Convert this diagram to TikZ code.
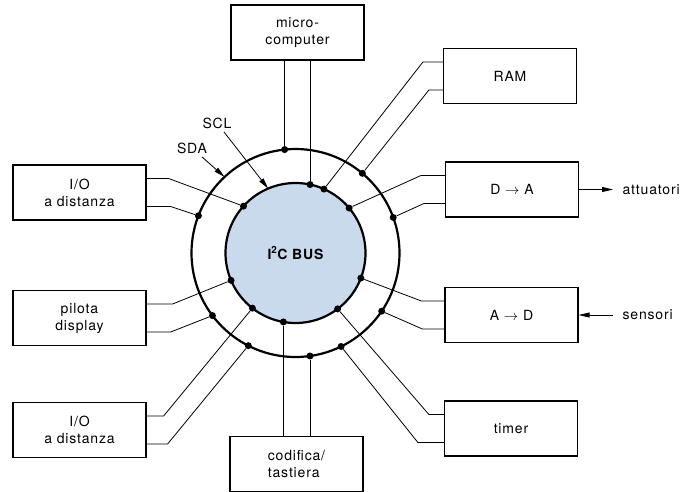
\documentclass[tikz,border=0pt]{standalone}
\usepackage{fontspec}
\setmainfont{TeX Gyre Heros}[LetterSpace=6]
\usetikzlibrary{arrows.meta}
\definecolor{bus_blue}{RGB}{200,218,236}

\begin{document}
\begin{tikzpicture}[x=1pt,y=-1pt,
  font=\fontsize{14}{17}\selectfont,
  box/.style={draw,line width=1.2pt,minimum width=133pt,minimum height=55pt,
              align=center},
  ringline/.style={circle,draw,line width=2.2pt,outer sep=0pt,inner sep=0pt},
  wire/.style={line width=0.8pt},
  dot/.style={circle,fill,inner sep=0pt,minimum size=7pt},
  arrow/.style={-{Triangle[length=11pt,width=5pt]},line width=0.8pt}
]
\useasboundingbox (0,0) rectangle (693,491);
\node[ringline,minimum size=208pt] (ring) at (295.5,253) {};
\node[ringline,minimum size=140pt,fill=bus_blue] (bus) at (295.5,253)
  {\fontsize{14}{16}\selectfont\bfseries I\textsuperscript{2}C BUS};
\node[box] (micro) at (297.5,32.5) {micro-\\computer};
\node[box] (ram)   at (510,76)     {RAM};
\node[box] (da)    at (512,189.5)  {D $\rightarrow$ A};
\node[box] (ad)    at (511.5,315)  {A $\rightarrow$ D};
\node[box] (timer) at (511,428.5)  {timer};
\node[box,align=left] (cod) at (296.5,464) {codifica/\\tastiera};
\node[box] (io1)   at (79.5,192.5) {I/O\\a distanza};
\node[box] (pil)   at (79.5,318)   {pilota\\display};
\node[box] (io2)   at (79.5,430)   {I/O\\a distanza};
\node[anchor=west] (att) at (619,190) {attuatori};
\node[anchor=west] (sen) at (619,315) {sensori};
\node (scl) at (217,123) {SCL};
\node (sda) at (192,148) {SDA};
\node[dot] (micro-o) at (ring.96.9)  {};
\node[dot] (micro-i) at (bus.78.05)  {};
\node[dot] (ram-o)   at (ring.50.3)  {};
\node[dot] (ram-i)   at (bus.66.3)   {};
\node[dot] (da-o)    at (ring.20.8)  {};
\node[dot] (da-i)    at (bus.40.7)   {};
\node[dot] (ad-o)    at (ring.-34.7) {};
\node[dot] (ad-i)    at (bus.-21.8)  {};
\node[dot] (timer-o) at (ring.-64.2) {};
\node[dot] (timer-i) at (bus.-53.8)  {};
\node[dot] (cod-o)   at (ring.-82.5) {};
\node[dot] (cod-i)   at (bus.-100)   {};
\node[dot] (io2-o)   at (ring.-117.3) {};
\node[dot] (io2-i)   at (bus.-128.5) {};
\node[dot] (pil-o)   at (ring.-143.4) {};
\node[dot] (pil-i)   at (bus.-157.2) {};
\node[dot] (io1-o)   at (ring.159.9) {};
\node[dot] (io1-i)   at (bus.138.7)  {};
\draw[wire] (micro.south -| micro-o) -- (micro-o);
\draw[wire] (micro.south -| micro-i) -- (micro-i);
\draw[wire] (cod.north -| cod-i) -- (cod-i);
\draw[wire] (cod.north -| cod-o) -- (cod-o);
\draw[wire] (ram.west) ++(0,-14) -- ++(-20,0) -- (ram-i);
\draw[wire] (ram.west) ++(0,14) -- ++(-14,0) -- (ram-o);
\draw[wire] (da.west) ++(0,-14) -- ++(-24,0) -- (da-i);
\draw[wire] (da.west) ++(0,14) -- ++(-21,0) -- (da-o);
\draw[wire] (ad.west) ++(0,-14) -- ++(-23,0) -- (ad-i);
\draw[wire] (ad.west) ++(0,14) -- ++(-22,0) -- (ad-o);
\draw[wire] (timer.west) ++(0,-14) -- ++(-15,0) -- (timer-i);
\draw[wire] (timer.west) ++(0,14) -- ++(-26,0) -- (timer-o);
\draw[wire] (io1.east) ++(0,-14) -- ++(22,0) -- (io1-i);
\draw[wire] (io1.east) ++(0,14) -- ++(24,0) -- (io1-o);
\draw[wire] (pil.east) ++(0,-14) -- ++(26,0) -- (pil-i);
\draw[wire] (pil.east) ++(0,14) -- ++(24,0) -- (pil-o);
\draw[wire] (io2.east) ++(0,-14) -- ++(17,0) -- (io2-i);
\draw[wire] (io2.east) ++(0,14) -- ++(21,0) -- (io2-o);
\draw[arrow,shorten >=6pt] (da.east) -- (da.east -| att.west);
\draw[arrow,shorten <=6pt] (ad.east -| sen.west) -- (ad.east);
\draw[arrow] (scl) -- (bus.113);
\draw[arrow] (sda) -- (ring.133);
\end{tikzpicture}
\end{document}
